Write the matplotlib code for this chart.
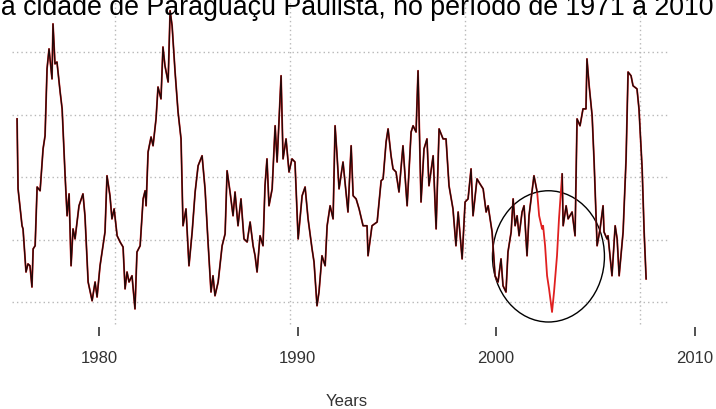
import numpy as np
import matplotlib
matplotlib.use("Agg")
import matplotlib.pyplot as plt
from matplotlib.patches import Ellipse

plt.rcParams["font.family"] = ["Liberation Sans", "DejaVu Sans"]

# index values (decimal year, value)
years = np.array([
    1975.87, 1975.92, 1976.12, 1976.17, 1976.32, 1976.42, 1976.52, 1976.62, 1976.68, 1976.78,
    1976.88, 1977.03, 1977.18, 1977.28, 1977.38, 1977.48, 1977.63, 1977.68, 1977.78, 1977.88,
    1978.04, 1978.14, 1978.29, 1978.39, 1978.49, 1978.59, 1978.69, 1978.79, 1978.89, 1978.99,
    1979.19, 1979.29, 1979.45, 1979.65, 1979.80, 1979.90, 1980.05, 1980.30, 1980.40, 1980.55,
    1980.65, 1980.76, 1980.91, 1981.06, 1981.21, 1981.31, 1981.41, 1981.51, 1981.66, 1981.81,
    1981.91, 1982.07, 1982.22, 1982.32, 1982.37, 1982.47, 1982.62, 1982.72, 1982.87, 1982.97,
    1983.12, 1983.22, 1983.32, 1983.48, 1983.58, 1983.68, 1983.83, 1983.98, 1984.13, 1984.23,
    1984.38, 1984.53, 1984.69, 1984.84, 1984.99, 1985.19, 1985.34, 1985.49, 1985.64, 1985.74,
    1985.84, 1986.00, 1986.20, 1986.35, 1986.45, 1986.60, 1986.75, 1986.85, 1987.00, 1987.15,
    1987.30, 1987.46, 1987.61, 1987.76, 1987.86, 1987.96, 1988.11, 1988.26, 1988.36, 1988.46,
    1988.56, 1988.72, 1988.87, 1988.97, 1989.17, 1989.27, 1989.42, 1989.57, 1989.72, 1989.87,
    1990.03, 1990.23, 1990.38, 1990.53, 1990.73, 1990.83, 1990.98, 1991.08, 1991.23, 1991.39,
    1991.49, 1991.64, 1991.79, 1991.89, 1991.99, 1992.09, 1992.29, 1992.44, 1992.54, 1992.70,
    1992.80, 1992.95, 1993.10, 1993.30, 1993.50, 1993.55, 1993.75, 1994.01, 1994.21, 1994.31,
    1994.46, 1994.56, 1994.71, 1994.81, 1994.96, 1995.11, 1995.31, 1995.52, 1995.72, 1995.82,
    1995.97, 1996.07, 1996.22, 1996.37, 1996.52, 1996.62, 1996.83, 1996.98, 1997.13, 1997.33,
    1997.48, 1997.63, 1997.83, 1997.98, 1998.09, 1998.29, 1998.44, 1998.59, 1998.74, 1998.84,
    1999.04, 1999.19, 1999.35, 1999.50, 1999.60, 1999.80, 1999.95, 2000.10, 2000.25, 2000.35,
    2000.50, 2000.60, 2000.76, 2000.86, 2000.96, 2001.06, 2001.16, 2001.31, 2001.41, 2001.56,
    2001.66, 2001.81, 2001.91, 2002.07, 2002.17, 2002.32, 2002.37, 2002.47, 2002.57, 2002.67,
    2002.82, 2002.92, 2003.07, 2003.17, 2003.33, 2003.38, 2003.53, 2003.63, 2003.83, 2003.98,
    2004.08, 2004.23, 2004.38, 2004.53, 2004.58, 2004.69, 2004.84, 2004.94, 2005.09, 2005.24,
    2005.39, 2005.44, 2005.59, 2005.64, 2005.84, 2006.00, 2006.10, 2006.20, 2006.40, 2006.55,
    2006.65, 2006.80, 2006.90, 2007.10, 2007.20, 2007.36, 2007.46, 2007.56,
])
values = np.array([
    0.93, -0.19, -0.78, -0.83, -1.52, -1.39, -1.42, -1.76, -1.15, -1.10,
    -0.16, -0.22, 0.45, 0.66, 1.73, 2.05, 1.57, 2.45, 1.81, 1.84,
    1.36, 1.09, 0.02, -0.62, -0.27, -1.42, -0.83, -0.99, -0.72, -0.46,
    -0.27, -0.62, -1.68, -1.98, -1.68, -1.92, -1.42, -0.88, 0.02, -0.30,
    -0.67, -0.51, -0.94, -1.04, -1.12, -1.79, -1.52, -1.68, -1.58, -2.11,
    -1.20, -1.10, -0.35, -0.22, -0.46, 0.40, 0.64, 0.50, 0.93, 1.44,
    1.25, 2.08, 1.78, 1.52, 2.66, 2.42, 1.68, 1.04, 0.61, -0.78,
    -0.51, -1.42, -0.88, -0.24, 0.18, 0.34, -0.19, -1.04, -1.84, -1.58,
    -1.90, -1.68, -1.10, -0.91, 0.10, -0.24, -0.62, -0.24, -0.78, -0.35,
    -0.99, -1.04, -0.72, -1.10, -1.26, -1.52, -0.94, -1.10, -0.14, 0.29,
    -0.46, -0.19, 0.82, 0.24, 1.62, 0.29, 0.61, 0.08, 0.29, 0.24,
    -0.99, -0.30, -0.16, -0.67, -1.15, -1.36, -2.06, -1.84, -1.26, -1.42,
    -0.78, -0.46, -0.67, 0.82, 0.34, -0.19, 0.24, -0.24, -0.56, 0.50,
    -0.30, -0.35, -0.51, -0.78, -0.78, -1.26, -0.78, -0.72, -0.06, -0.03,
    0.56, 0.77, 0.34, 0.13, 0.08, -0.24, 0.50, -0.46, 0.72, 0.82,
    0.72, 1.70, -0.40, 0.45, 0.61, -0.14, 0.34, -0.83, 0.77, 0.61,
    0.61, -0.14, -0.51, -1.10, -0.56, -1.31, -0.40, -0.35, 0.13, -0.62,
    -0.03, -0.11, -0.19, -0.56, -0.46, -0.88, -1.58, -1.68, -1.31, -1.74,
    -1.84, -1.20, -0.88, -0.35, -0.78, -0.62, -0.94, -0.56, -0.46, -1.26,
    -0.62, -0.24, 0.02, -0.24, -0.62, -0.83, -0.78, -1.10, -1.58, -1.79,
    -2.16, -1.84, -1.26, -0.67, 0.05, -0.78, -0.46, -0.67, -0.56, -0.94,
    0.93, 0.82, 1.09, 1.09, 1.89, 1.46, 0.98, 0.24, -1.10, -0.83,
    -0.46, -0.88, -0.99, -0.94, -1.58, -0.78, -0.99, -1.58, -0.88, 0.29,
    1.68, 1.62, 1.46, 1.41, 1.09, 0.13, -0.88, -1.63,
])
# months missing in the observed series (only the filled series shows there)
gap_start, gap_end = 2002.10, 2003.25

grid_y = [-2, -1, 0, 1, 2]
grid_x = [1980.81, 1989.62, 1998.44, 2007.25]
tick_years = [1980, 1990, 2000, 2010]

observed = np.where((years > gap_start) & (years < gap_end), np.nan, values)

fig = plt.figure(figsize=(7.16, 4.10), dpi=100)
ax = fig.add_axes([0, 0, 1, 1])
ax.set_xlim(1975.01, 2011.08)
ax.set_ylim(-3.712, 2.848)

# dotted grid, only inside the plot region
ax.hlines(grid_y, 1975.62, 2008.61, colors="#b8b8b8", linestyles=(0, (1, 2.2)), lw=1)
ax.vlines(grid_x, -2.352, 2.9, colors="#b8b8b8", linestyles=(0, (1, 2.2)), lw=1)

ax.plot(years, values, color="#e02020", lw=1.3)
ax.plot(years, observed, color="#200808", lw=0.95)

ax.add_patch(Ellipse((2002.64, -1.27), 5.64, 2.10, fill=False, ec="black", lw=1))

for s in ax.spines.values():
    s.set_visible(False)
ax.spines["bottom"].set_position(("data", -2.4))
ax.set_yticks([])
ax.set_xticks(tick_years)
ax.set_xticklabels([str(y) for y in tick_years])
ax.tick_params(axis="x", length=6.5, width=1.1, color="#222222", pad=10,
               labelsize=12, labelcolor="#333333")

fig.text(346.5 / 716, 1 - 402 / 410, "Years", ha="center", va="center",
         fontsize=12, color="#333333")
fig.text(714 / 716, 1 - 15 / 410,
         "da cidade de Paraguaçu Paulista, no período de 1971 a 2010",
         ha="right", va="baseline", fontsize=19.3, color="black")

fig.savefig("out.png", dpi=100)
